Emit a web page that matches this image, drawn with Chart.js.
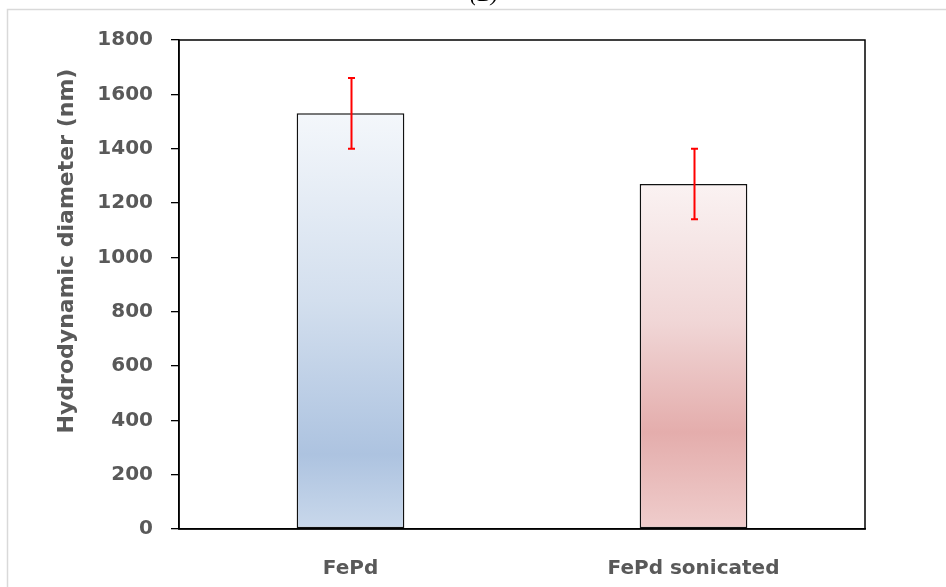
<!DOCTYPE html>
<html>
<head>
<meta charset="utf-8">
<script src="https://cdn.jsdelivr.net/npm/chart.js@4/dist/chart.umd.min.js"></script>
<style>
  html, body { margin: 0; padding: 0; background: #ffffff; }
  #wrap { width: 946px; height: 587px; position: relative; overflow: hidden; }
</style>
</head>
<body>
<div id="wrap"><canvas id="c" width="946" height="587"></canvas></div>
<script>
const categories = ['FePd', 'FePd sonicated'];
const means = [1530, 1270];
const errors = [130, 130];
const yMin = 0;
const yMax = 1800;
const yStep = 200;
const yTitle = 'Hydrodynamic diameter (nm)';
const figTitle = '(B)';

const gradientStops = [
  [[0, '#f4f7fb'], [0.45, '#d3dfee'], [0.82, '#adc3e0'], [1, '#c9d8eb']],
  [[0, '#faf2f2'], [0.40, '#f0d6d6'], [0.72, '#e4adac'], [1, '#efcdcc']]
];

const LABEL_COLOR = '#595959';
const FONT = '"DejaVu Sans", sans-serif';

function barFill(ctx) {
  const chart = ctx.chart;
  const area = chart.chartArea;
  const i = ctx.dataIndex;
  const stops = gradientStops[i % gradientStops.length];
  if (!area) return stops[2][1];
  const yScale = chart.scales.y;
  const top = yScale.getPixelForValue(means[i]);
  const bottom = yScale.getPixelForValue(0);
  const g = chart.ctx.createLinearGradient(0, top, 0, bottom);
  stops.forEach(s => g.addColorStop(s[0], s[1]));
  return g;
}

const decorPlugin = {
  id: 'decor',
  beforeDraw(chart) {
    const c = chart.ctx;
    c.save();
    c.strokeStyle = '#d9d9d9';
    c.lineWidth = 1.5;
    c.strokeRect(7.5, 9.5, 2000, 2000);
    c.fillStyle = '#000000';
    c.font = 'italic 22px "Liberation Serif", serif';
    c.textAlign = 'center';
    c.textBaseline = 'alphabetic';
    c.fillText(figTitle, 484, 1);
    c.translate(67, 251);
    c.rotate(-Math.PI / 2);
    c.fillStyle = LABEL_COLOR;
    c.font = 'bold 22px ' + FONT;
    c.textAlign = 'center';
    c.textBaseline = 'middle';
    c.fillText(yTitle, 0, 0);
    c.restore();
  },
  afterDatasetsDraw(chart) {
    const c = chart.ctx;
    const yScale = chart.scales.y;
    const meta = chart.getDatasetMeta(0);
    c.save();
    c.strokeStyle = '#ff0000';
    c.lineWidth = 2;
    meta.data.forEach((bar, i) => {
      const x = Math.round(bar.x) + 0.5;
      const yTop = yScale.getPixelForValue(means[i] + errors[i]);
      const yBot = yScale.getPixelForValue(means[i] - errors[i]);
      c.beginPath();
      c.moveTo(x, yTop); c.lineTo(x, yBot);
      c.moveTo(x - 3.5, yTop); c.lineTo(x + 3.5, yTop);
      c.moveTo(x - 3.5, yBot); c.lineTo(x + 3.5, yBot);
      c.stroke();
    });
    const a = chart.chartArea;
    c.strokeStyle = '#000000';
    c.lineWidth = 1.5;
    c.strokeRect(a.left, a.top, a.right - a.left, a.bottom - a.top);
    c.restore();
  }
};

new Chart(document.getElementById('c'), {
  type: 'bar',
  data: {
    labels: categories,
    datasets: [{
      data: means,
      backgroundColor: barFill,
      borderColor: '#111111',
      borderWidth: 1.5,
      borderSkipped: false,
      categoryPercentage: 1,
      barPercentage: 0.314
    }]
  },
  options: {
    responsive: false,
    animation: false,
    devicePixelRatio: 1,
    layout: { padding: { left: 0, top: 40, right: 81, bottom: 0 } },
    plugins: { legend: { display: false }, tooltip: { enabled: false }, title: { display: false } },
    scales: {
      x: {
        grid: { display: false },
        border: { display: true, color: '#000000', width: 1.5 },
        ticks: { color: LABEL_COLOR, font: { family: FONT, size: 20, weight: 'bold' }, padding: 20, maxRotation: 0 },
        afterFit(scale) { scale.height = 58; }
      },
      y: {
        min: yMin, max: yMax,
        ticks: {
          stepSize: yStep, color: LABEL_COLOR, font: { family: FONT, size: 20, weight: 'bold' }, padding: 18,
          callback: (v) => String(v)
        },
        grid: { drawOnChartArea: false, drawTicks: true, tickLength: 8, color: '#000000', lineWidth: 1.3 },
        border: { display: true, color: '#000000', width: 1.5 },
        afterFit(scale) { scale.width = 179; }
      }
    }
  },
  plugins: [decorPlugin]
});
</script>
</body>
</html>
